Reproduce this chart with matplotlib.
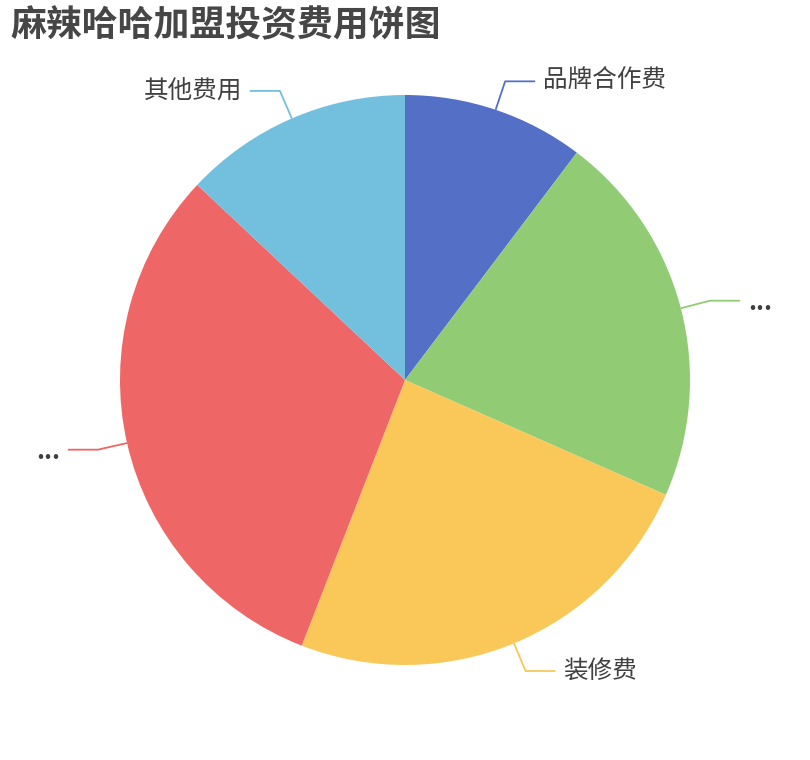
import numpy as np
import matplotlib
matplotlib.use("Agg")
import matplotlib.pyplot as plt

plt.rcParams['font.family'] = ['Noto Sans CJK SC', 'DejaVu Sans']

title = "麻辣哈哈加盟投资费用饼图"
labels = ["品牌合作费", "...", "装修费", "...", "其他费用"]
values = [10.3, 21.3, 24.3, 31.1, 13.0]
colors = ["#5470c6", "#91cc75", "#fac858", "#ee6666", "#73c0de"]

W, H = 810, 760
fig = plt.figure(figsize=(W / 100, H / 100), dpi=100)
ax = fig.add_axes([0, 0, 1, 1])

cx, cy, R = 405, 380, 285
wedges, _ = ax.pie(values, colors=colors, startangle=90, counterclock=False,
                   center=(cx, cy), radius=R, wedgeprops=dict(linewidth=0),
                   frame=True)
ax.set_xlim(0, W)
ax.set_ylim(0, H)
ax.set_aspect('equal')
ax.axis('off')

for w, lab, col in zip(wedges, labels, colors):
    mid = np.deg2rad((w.theta1 + w.theta2) / 2)
    x0, y0 = cx + R * np.cos(mid), cy + R * np.sin(mid)
    x1, y1 = cx + (R + 30) * np.cos(mid), cy + (R + 30) * np.sin(mid)
    side = 1 if np.cos(mid) >= 0 else -1
    x2 = x1 + side * 30
    ax.plot([x0, x1, x2], [y0, y1, y1], color=col, lw=1.3, solid_capstyle='butt')
    ax.text(x2 + side * 8, y1 - (2 if lab == "..." else 0), lab,
            ha='left' if side > 0 else 'right',
            va='center', fontsize=17.7, color='#404040',
            fontweight='bold' if lab == "..." else 'normal')

fig.text(10 / W, 1 - 26 / H, title, ha='left', va='center', fontsize=25.8,
         fontweight='bold', color='#464646')

fig.savefig("out.png", dpi=100, facecolor='white')
